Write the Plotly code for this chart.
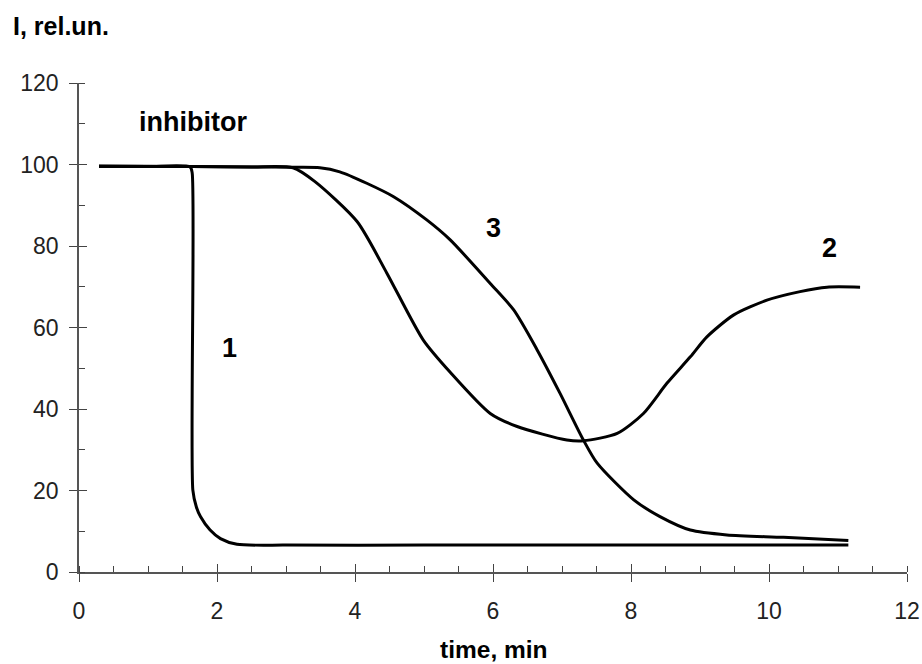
import plotly.graph_objects as go

# Curve 1
t1 = [0.29, 1.0, 1.61, 1.64, 1.65, 1.70, 1.76, 1.90, 2.05, 2.29, 3.0, 5.0, 7.0, 9.0, 11.15]
I1 = [99.6, 99.5, 99.4, 98.0, 20.1, 16.0, 13.6, 10.3, 8.2, 6.8, 6.6, 6.6, 6.6, 6.6, 6.6]

# Curve 2
t2 = [0.29, 1.64, 2.5, 3.1, 3.42, 4.03, 4.46, 4.99, 5.38, 5.96, 6.35, 7.07, 7.31, 7.80, 8.18,
      8.52, 8.86, 9.10, 9.49, 9.97, 10.45, 10.84, 11.32]
I2 = [99.6, 99.5, 99.4, 99.2, 95.8, 86.0, 73.4, 56.9, 49.0, 38.9, 35.7, 32.4, 32.2, 34.0, 38.9,
      46.3, 52.8, 57.7, 63.1, 66.7, 68.8, 69.9, 69.9]

# Curve 3
t3 = [0.29, 1.64, 2.5, 3.1, 3.49, 3.78, 4.17, 4.56, 5.04, 5.38, 5.96, 6.30, 6.64, 6.97, 7.31,
      7.51, 8.04, 8.42, 8.86, 9.39, 10.21, 11.15]
I3 = [99.6, 99.5, 99.4, 99.3, 99.2, 98.2, 95.4, 92.1, 86.4, 81.5, 70.8, 64.3, 54.5, 43.9, 32.4,
      26.7, 17.7, 13.6, 10.3, 9.1, 8.5, 7.7]

curve_labels = ["1", "2", "3"]
label_x = [2.18, 10.87, 6.01]
label_y = [55.0, 79.5, 84.5]

x_ticks = [0, 2, 4, 6, 8, 10, 12]
y_ticks = [0, 20, 40, 60, 80, 100, 120]

FONT = "Liberation Sans, Arial, sans-serif"
LINE = dict(color="black", width=3, shape="spline", smoothing=0.7)

fig = go.Figure()
for t, I in [(t1, I1), (t2, I2), (t3, I3)]:
    fig.add_trace(go.Scatter(x=t, y=I, mode="lines", line=LINE, showlegend=False, hoverinfo="skip"))

for lab, lx, ly in zip(curve_labels, label_x, label_y):
    fig.add_annotation(x=lx, y=ly, text=f"<b>{lab}</b>", showarrow=False,
                       font=dict(family=FONT, size=27, color="black"))

fig.add_annotation(x=1.65, y=110.5, text="<b>inhibitor</b>", showarrow=False,
                   font=dict(family=FONT, size=27, color="black"))

fig.add_annotation(xref="paper", yref="paper", x=0, y=1, xanchor="left", yanchor="middle",
                   xshift=-68, yshift=57, text="<b>I, rel.un.</b>", showarrow=False,
                   font=dict(family=FONT, size=25, color="black"))
fig.add_annotation(xref="paper", yref="paper", x=0.5, y=0, xanchor="center", yanchor="middle",
                   xshift=1, yshift=-77, text="<b>time, min</b>", showarrow=False,
                   font=dict(family=FONT, size=24.5, color="black"))

axis_common = dict(showgrid=False, zeroline=False, showline=True, linecolor="#555555",
                   linewidth=1.5, ticks="outside", ticklen=8, tickwidth=1.3, tickcolor="#444444",
                   automargin=False,
                   tickfont=dict(family=FONT, size=23, color="#222222"))

fig.update_xaxes(range=[0, 12], tickvals=x_ticks, ticktext=[str(v) for v in x_ticks],
                 minor=dict(dtick=0.5, ticks="inside", ticklen=6, tickwidth=1.3, tickcolor="#444444"),
                 ticklabelstandoff=10, **axis_common)
fig.update_yaxes(range=[0, 120], tickvals=y_ticks, ticktext=[str(v) for v in y_ticks],
                 minor=dict(dtick=10, ticks="inside", ticklen=6, tickwidth=1.3, tickcolor="#444444"),
                 ticklabelstandoff=6, **axis_common)

# overlay axes to draw the inner half of the major ticks (crossing ticks)
fig.update_layout(
    xaxis2=dict(overlaying="x", matches="x", anchor="y", side="bottom", showline=False,
                showgrid=False, zeroline=False, tickvals=x_ticks, ticks="inside", ticklen=8,
                tickwidth=1.3, tickcolor="#444444", showticklabels=False, automargin=False),
    yaxis2=dict(overlaying="y", matches="y", anchor="x", side="left", showline=False,
                showgrid=False, zeroline=False, tickvals=y_ticks, ticks="inside", ticklen=8,
                tickwidth=1.3, tickcolor="#444444", showticklabels=False, automargin=False),
)
fig.add_trace(go.Scatter(x=[None], y=[None], xaxis="x2", yaxis="y2", showlegend=False, hoverinfo="skip"))

fig.update_layout(width=922, height=664, margin=dict(l=79, r=15, t=83, b=92),
                  plot_bgcolor="white", paper_bgcolor="white", showlegend=False)

fig.write_html("out.html", config={"displayModeBar": False},
               post_script="document.body.style.margin='0';document.body.style.overflow='hidden';")
